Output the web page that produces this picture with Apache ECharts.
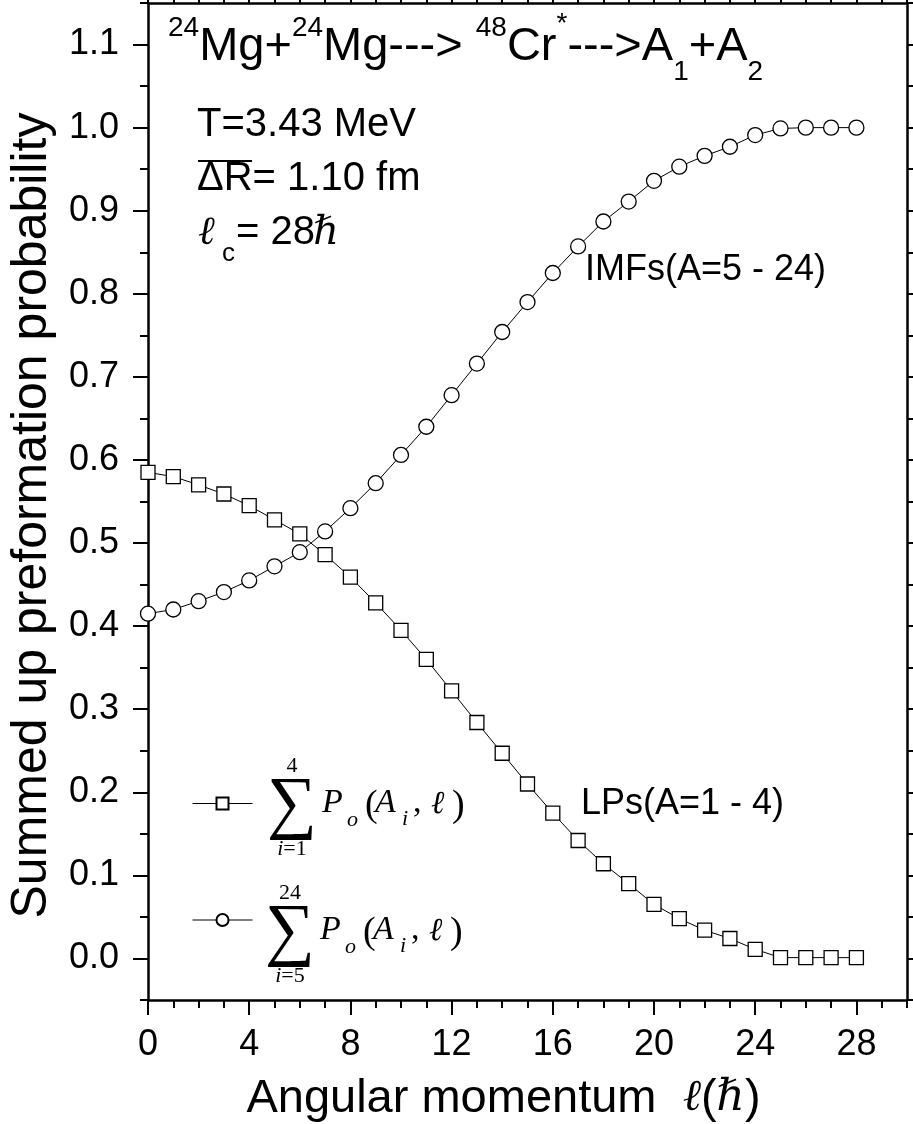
<!DOCTYPE html>
<html>
<head>
<meta charset="utf-8">
<script src="https://cdn.jsdelivr.net/npm/echarts@6.0.0/dist/echarts.min.js"></script>
<style>
html, body { margin: 0; padding: 0; background: #fff; }
#chart { width: 913px; height: 1124px; }
</style>
</head>
<body>
<div id="chart"></div>
<script>
// angular momentum l (in units of hbar)
const ell = [0, 1, 2, 3, 4, 5, 6, 7, 8, 9, 10, 11, 12, 13, 14, 15, 16, 17, 18, 19, 20, 21, 22, 23, 24, 25, 26, 27, 28];
// summed preformation probability, light particles A=1-4 (squares)
const lpSum = [0.585, 0.580, 0.570, 0.559, 0.545, 0.528, 0.511, 0.486, 0.459, 0.428, 0.395, 0.360, 0.322, 0.284, 0.247,
  0.210, 0.175, 0.142, 0.114, 0.090, 0.065, 0.048, 0.034, 0.024, 0.011, 0.001, 0.001, 0.001, 0.001];
// summed preformation probability, IMFs A=5-24 (circles)
const imfSum = [0.415, 0.420, 0.430, 0.441, 0.455, 0.472, 0.489, 0.514, 0.542, 0.572, 0.606, 0.640, 0.678, 0.716, 0.754,
  0.790, 0.825, 0.857, 0.887, 0.911, 0.936, 0.953, 0.966, 0.977, 0.991, 0.999, 1.000, 1.000, 1.000];
const xTickLabels = [0, 4, 8, 12, 16, 20, 24, 28];
const yTickLabels = [0, 0.1, 0.2, 0.3, 0.4, 0.5, 0.6, 0.7, 0.8, 0.9, 1.0, 1.1];

const SANS = 'Liberation Sans';
const SERIF = 'Liberation Serif';

const chart = echarts.init(document.getElementById('chart'));

// text placed by its baseline (graphic text is drawn middle-aligned)
function txt(x, base, text, size, opt) {
  opt = opt || {};
  const fam = opt.family || SANS;
  const k = fam === SANS ? 0.3465 : 0.3375;
  return {
    type: 'text', x: x, y: base - k * size, silent: true,
    style: {
      text: text, fill: '#000', fontSize: size, fontFamily: fam,
      fontStyle: opt.italic ? 'italic' : 'normal',
      align: opt.align || 'left', verticalAlign: 'middle'
    }
  };
}

// pieces of text laid one after another (for super/subscripts)
const mctx = document.createElement('canvas').getContext('2d');
function run(x, parts) {
  const out = [];
  parts.forEach(p => {
    const opt = p[3] || {};
    out.push(txt(x, p[1], p[0], p[2], opt));
    mctx.font = (opt.italic ? 'italic ' : '') + p[2] + 'px "' + (opt.family || SANS) + '"';
    x += mctx.measureText(p[0]).width;
  });
  return out;
}

// sum sign with limits and P_o(A_i, l)
function sumFormula(sx, base, upper, lower) {
  const it = { family: SERIF, italic: true };
  return [
    txt(sx - 3, base + 15, '\u2211', 70, { family: SERIF }),
    txt(sx + 22, base - 41, upper, 22, { family: SERIF, align: 'center' }),
    {
      type: 'text', x: sx + 22, y: base + 34, silent: true,
      style: {
        text: '{i|i}{n|=' + lower + '}', align: 'center', verticalAlign: 'middle', fill: '#000',
        rich: {
          i: { fontSize: 22, fontFamily: SERIF, fontStyle: 'italic' },
          n: { fontSize: 22, fontFamily: SERIF }
        }
      }
    },
    txt(sx + 52, base, 'P', 34, it),
    txt(sx + 77, base + 13, 'o', 22, it),
    txt(sx + 95, base + 4, '(', 38, { family: SERIF }),
    txt(sx + 105, base, 'A', 34, it),
    txt(sx + 132, base + 12, 'i', 22, it),
    txt(sx + 143, base, ',', 34, { family: SERIF }),
    txt(sx + 161, base, '\u2113', 32, { family: 'DejaVu Serif', italic: true }),
    txt(sx + 182, base + 4, ')', 38, { family: SERIF })
  ];
}

const tickLine = { color: '#000', width: 2 };
const axisLine = { show: true, onZero: false, lineStyle: { color: '#000', width: 2.5 } };

const title = run(168, [
  ['24', 38, 28], ['Mg+', 63, 47], ['24', 38, 28], ['Mg---> ', 63, 47], ['48', 38, 28], ['Cr', 63, 47],
  ['*', 34, 28], ['--->A', 63, 47], ['1', 82, 28], ['+A', 63, 47], ['2', 82, 28]
]);

const option = {
  animation: false,
  backgroundColor: '#fff',
  grid: { left: 148, right: 6, top: 3, bottom: 124, outerBoundsMode: 'none' },
  xAxis: [
    {
      type: 'value', min: 0, max: 30, position: 'bottom',
      axisLine: axisLine,
      axisTick: { length: 15, lineStyle: tickLine, customValues: xTickLabels },
      axisLabel: { customValues: xTickLabels, fontSize: 36, fontFamily: SANS, color: '#000', margin: 27 },
      splitLine: { show: false },
      name: '{n|Angular momentum  }{it|\u2113}{n|(}{it|\u210F}{n|)}',
      nameLocation: 'middle', nameGap: 74, nameMoveOverlap: false,
      nameTextStyle: {
        padding: [0, 48, 0, 0],
        rich: {
          n: { fontSize: 47, fontFamily: SANS, color: '#000', lineHeight: 50 },
          it: { fontSize: 44, fontFamily: 'DejaVu Serif', fontStyle: 'italic', color: '#000', lineHeight: 50 }
        }
      }
    },
    {
      type: 'value', min: 0, max: 30, interval: 1, position: 'bottom',
      axisLine: { show: false, onZero: false },
      axisTick: { length: 8, lineStyle: tickLine },
      axisLabel: { show: false }, splitLine: { show: false }
    },
    {
      type: 'value', min: 0, max: 30, interval: 1, position: 'top',
      axisLine: axisLine,
      axisTick: { length: 6, lineStyle: tickLine },
      axisLabel: { show: false }, splitLine: { show: false }
    }
  ],
  yAxis: [
    {
      type: 'value', min: -0.05, max: 1.15, position: 'left',
      axisLine: axisLine,
      axisTick: { length: 15, lineStyle: tickLine, customValues: yTickLabels },
      axisLabel: {
        customValues: yTickLabels, fontSize: 36, fontFamily: SANS, color: '#000', margin: 29,
        formatter: v => v.toFixed(1)
      },
      splitLine: { show: false },
      name: 'Summed up preformation probability',
      nameLocation: 'middle', nameGap: 90, nameRotate: 90, nameMoveOverlap: false,
      nameTextStyle: { fontSize: 50, fontFamily: SANS, color: '#000', lineHeight: 52, padding: [0, 28, 0, 0] }
    },
    {
      type: 'value', min: -0.05, max: 1.15, interval: 0.05, position: 'left',
      axisLine: { show: false, onZero: false },
      axisTick: { length: 8, lineStyle: tickLine },
      axisLabel: { show: false }, splitLine: { show: false }
    },
    {
      type: 'value', min: -0.05, max: 1.15, interval: 0.05, position: 'right',
      axisLine: axisLine,
      axisTick: { length: 6, lineStyle: tickLine },
      axisLabel: { show: false }, splitLine: { show: false }
    }
  ],
  legend: {
    data: ['LPs', 'IMFs'], orient: 'vertical', left: 192, top: 796, padding: 0,
    itemWidth: 60, itemHeight: 15, itemGap: 102,
    formatter: () => '', selectedMode: false,
    lineStyle: { color: '#000', width: 1 }
  },
  series: [
    {
      name: 'LPs', type: 'line', xAxisIndex: 0, yAxisIndex: 0,
      data: ell.map((l, i) => [l, lpSum[i]]),
      symbol: 'rect', symbolSize: 14,
      lineStyle: { color: '#000', width: 1 },
      itemStyle: { color: '#fff', borderColor: '#000', borderWidth: 1.3 },
      emphasis: { disabled: true }
    },
    {
      name: 'IMFs', type: 'line', xAxisIndex: 0, yAxisIndex: 0,
      data: ell.map((l, i) => [l, imfSum[i]]),
      symbol: 'circle', symbolSize: 15,
      lineStyle: { color: '#000', width: 1 },
      itemStyle: { color: '#fff', borderColor: '#000', borderWidth: 1.3 },
      emphasis: { disabled: true }
    }
  ],
  graphic: title.concat([
    txt(197, 139, 'T=3.43 MeV', 40),
    txt(197, 193, '\u0394R= 1.10 fm', 40),
    { type: 'line', silent: true, shape: { x1: 198, y1: 161, x2: 252, y2: 161 }, style: { stroke: '#000', lineWidth: 2 } },
    txt(198, 247, '\u2113', 40, { family: 'DejaVu Serif', italic: true }),
    txt(222, 263, 'c', 26),
    txt(236, 247, '= 28', 40),
    txt(313, 247, '\u210F', 40, { family: 'DejaVu Serif', italic: true }),
    txt(585, 283, 'IMFs(A=5 - 24)', 36),
    txt(581, 817, 'LPs(A=1 - 4)', 36)
  ], sumFormula(270, 815, '4', '1'), sumFormula(268, 942, '24', '5'))
};

chart.setOption(option);
</script>
</body>
</html>
